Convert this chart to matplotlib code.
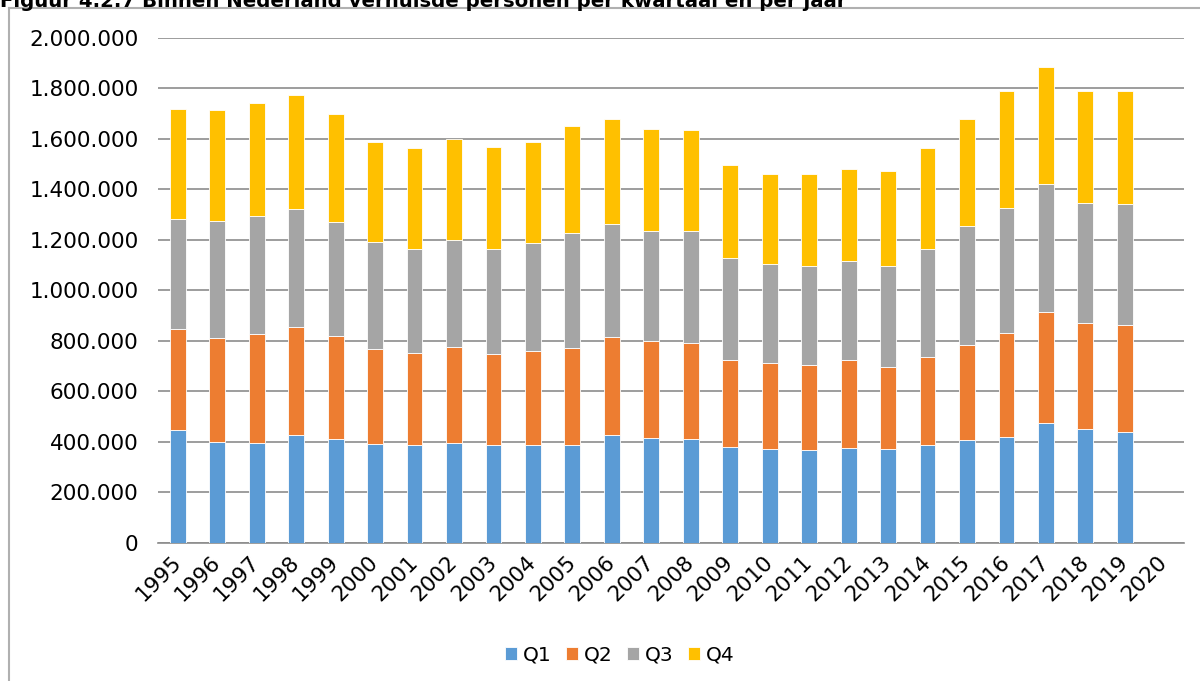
import matplotlib
matplotlib.use('Agg')
import matplotlib.pyplot as plt
import matplotlib.transforms as mtransforms
from matplotlib.lines import Line2D
from matplotlib.ticker import FuncFormatter
import numpy as np

# ===== Data =====
years = [str(y) for y in range(1995, 2021)]
q1 = [446000, 398000, 396000, 425000, 410000, 390000, 386000, 394000, 386000, 386000,
      387000, 425000, 413000, 410000, 379000, 372000, 367000, 375000, 370000, 386000,
      407000, 420000, 473000, 450000, 440000, 0]
q2 = [399000, 412000, 429000, 428000, 408000, 379000, 364000, 380000, 363000, 374000,
      385000, 391000, 386000, 382000, 346000, 338000, 336000, 350000, 325000, 348000,
      376000, 412000, 442000, 421000, 423000, 0]
q3 = [437000, 463000, 470000, 470000, 453000, 421000, 412000, 426000, 413000, 425000,
      453000, 445000, 437000, 441000, 401000, 395000, 394000, 392000, 402000, 428000,
      470000, 495000, 507000, 473000, 479000, 0]
q4 = [436000, 441000, 446000, 450000, 426000, 396000, 400000, 398000, 405000, 402000,
      426000, 417000, 402000, 400000, 371000, 356000, 362000, 362000, 375000, 401000,
      426000, 463000, 463000, 444000, 446000, 0]

series = [('Q1', q1, '#5B9BD5'), ('Q2', q2, '#ED7D31'),
          ('Q3', q3, '#A5A5A5'), ('Q4', q4, '#FFC000')]

title = 'Figuur 4.2.7 Binnen Nederland verhuisde personen per kwartaal en per jaar'

# ===== Plot =====
fig = plt.figure(figsize=(12, 6.81), dpi=100)
ax = fig.add_axes([0.1317, 0.2031, 0.855, 0.7415])

x = np.arange(len(years))
bottom = np.zeros(len(years))
for name, vals, col in series:
    vals = np.array(vals, dtype=float)
    ax.bar(x, vals, width=0.4, bottom=bottom, color=col, label=name,
           edgecolor='white', linewidth=0.6, zorder=3)
    bottom += vals

ax.set_xlim(-0.5, len(years) - 0.5)
ax.set_ylim(0, 2000000)
ax.set_yticks(range(0, 2000001, 200000))
ax.yaxis.set_major_formatter(FuncFormatter(lambda v, p: f'{int(v):,}'.replace(',', '.')))
ax.set_xticks(x)
ax.set_xticklabels(years, rotation=45, ha='right', va='center', rotation_mode='anchor')
# nudge year labels a little to the right, like the original
shift = mtransforms.ScaledTranslation(6 / 100, 0, fig.dpi_scale_trans)
for lbl in ax.get_xticklabels():
    lbl.set_transform(lbl.get_transform() + shift)

ax.grid(axis='y', color='#8c8c8c', linewidth=1.2, zorder=0)
for s in ['top', 'right', 'left']:
    ax.spines[s].set_visible(False)
ax.spines['bottom'].set_color('#8c8c8c')
ax.spines['bottom'].set_linewidth(1.2)
ax.tick_params(axis='both', length=0, labelsize=15.5, colors='black')
ax.tick_params(axis='y', pad=14)
ax.tick_params(axis='x', pad=12)

ax.legend(loc='center', bbox_to_anchor=(0.45, -0.223), ncol=4, frameon=False,
          fontsize=14.5, handlelength=0.6, handleheight=0.6, handletextpad=0.3,
          columnspacing=0.7)

# chart frame (extends beyond the picture on right/bottom)
fx0, fy0 = 9 / 1200, 1 - 8 / 681
fig.add_artist(Line2D([fx0, fx0], [fy0, -0.1], transform=fig.transFigure,
                      color='#b0b0b0', linewidth=1.5))
fig.add_artist(Line2D([fx0, 1.1], [fy0, fy0], transform=fig.transFigure,
                      color='#b0b0b0', linewidth=1.5))

# title, clipped at the very top as in the original
fig.text(0.0, 1 - 7 / 681, title, fontsize=14.2, fontweight='bold',
         ha='left', va='baseline')

fig.savefig('out.png', dpi=100)
print("Plot saved as out.png")
